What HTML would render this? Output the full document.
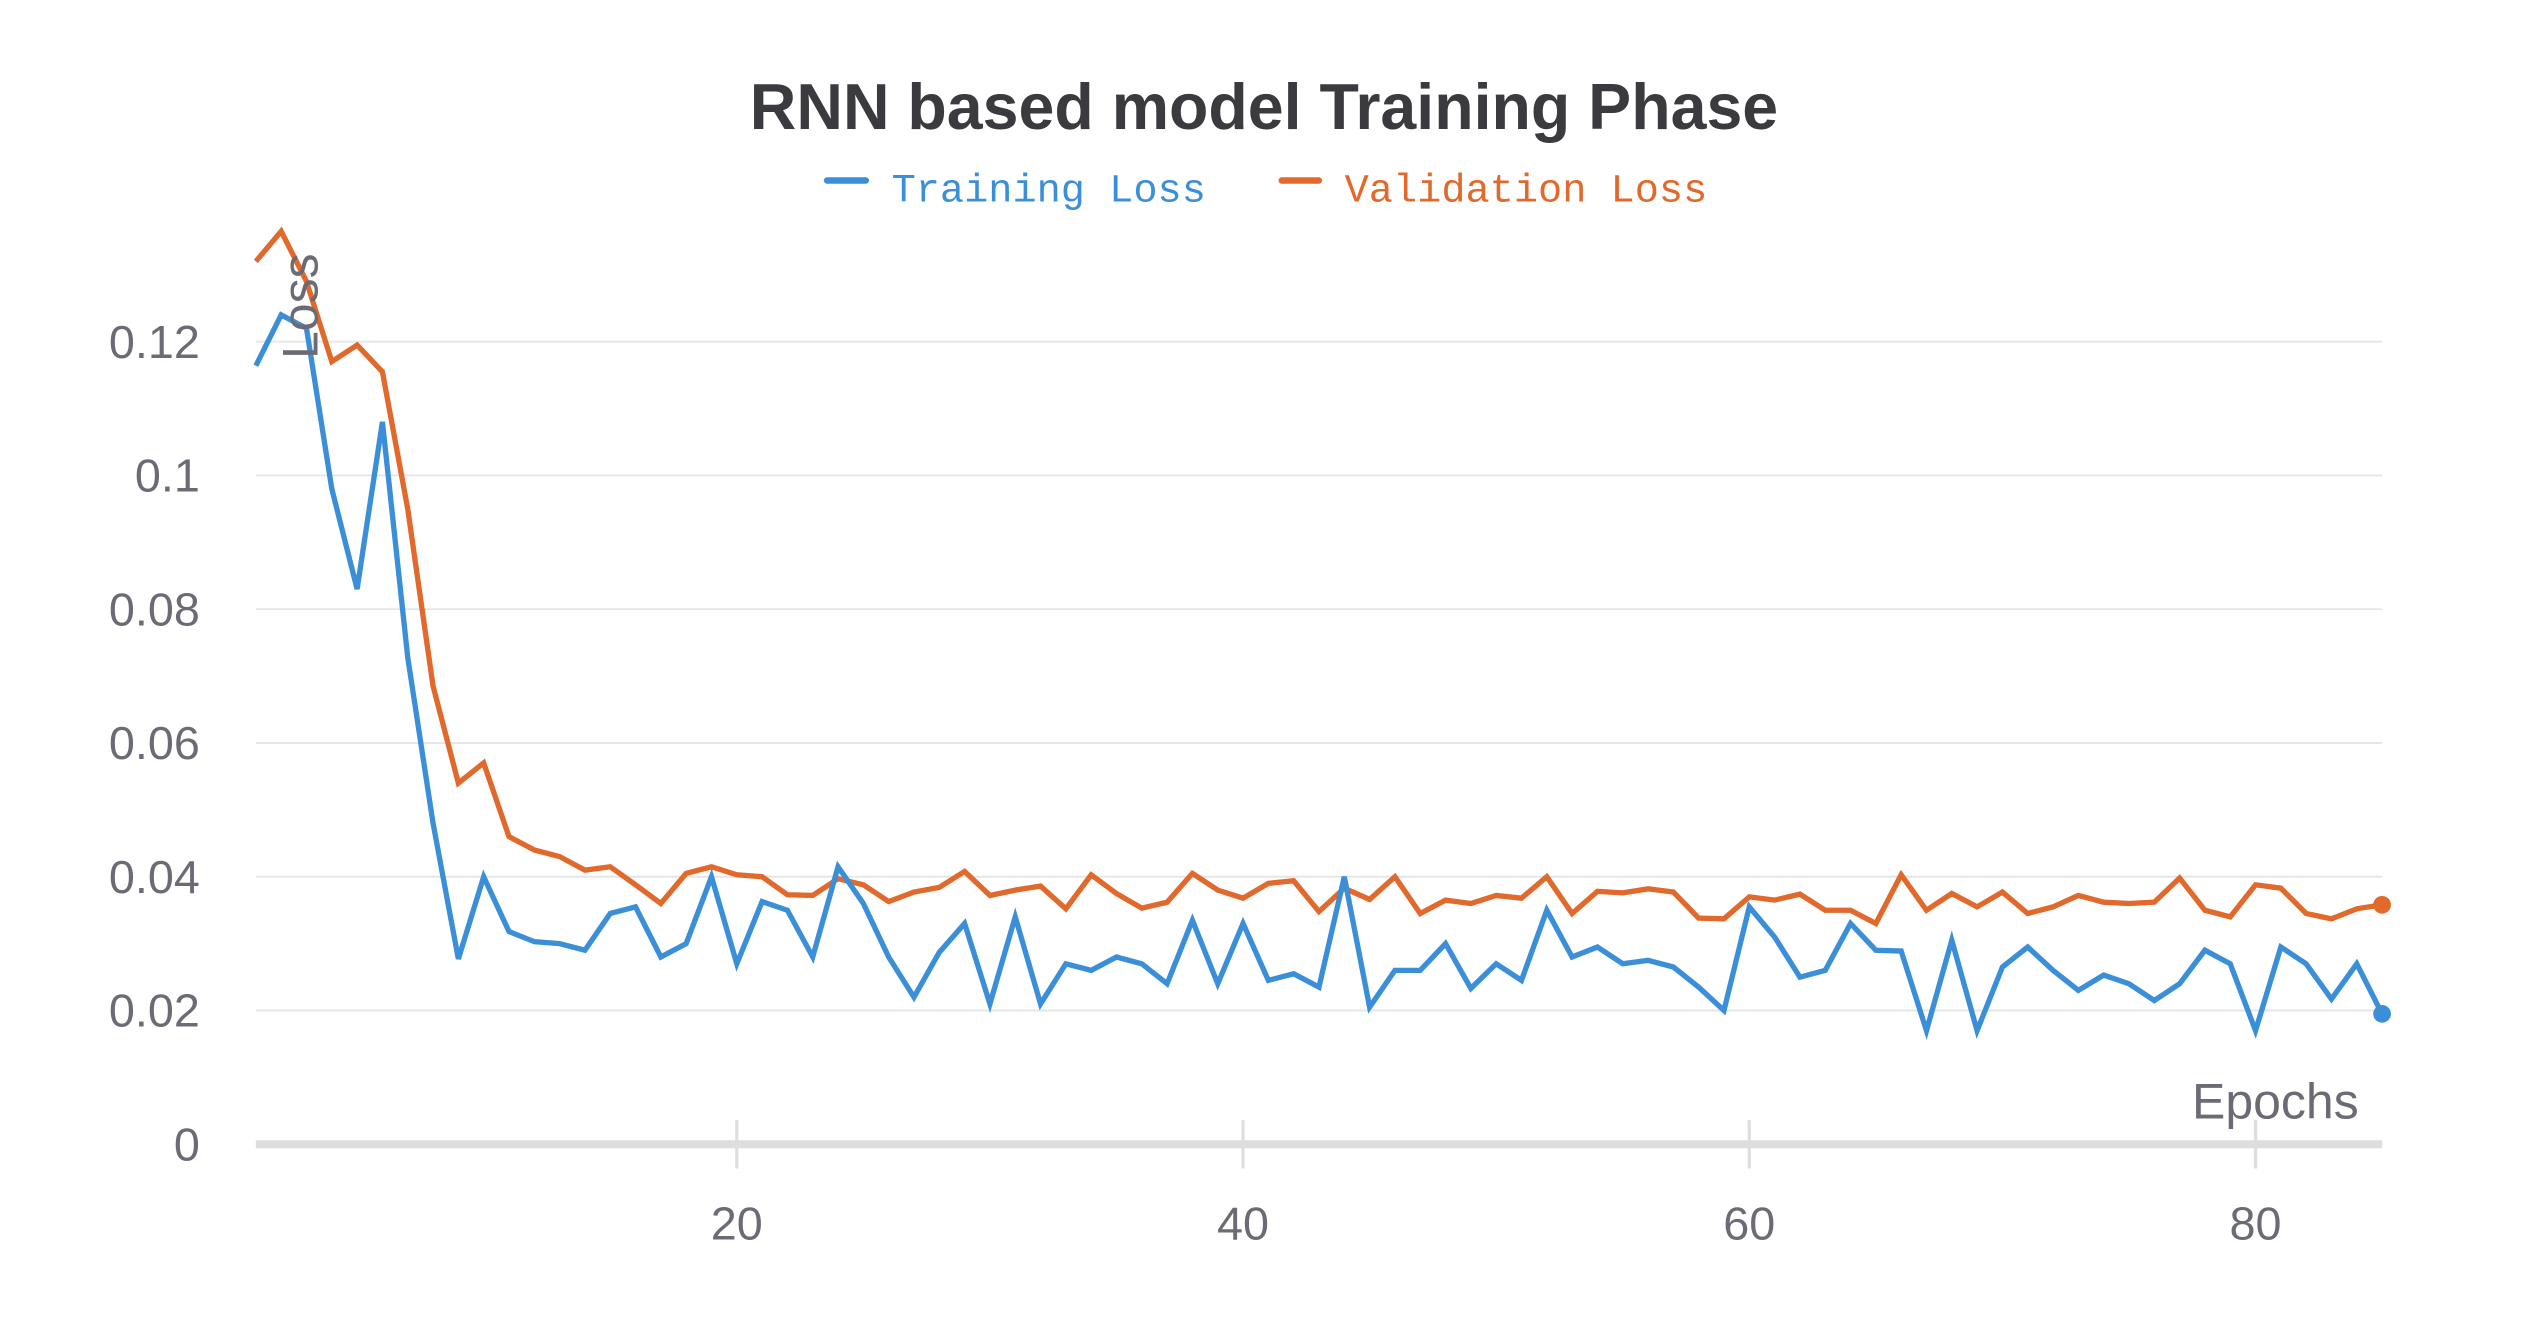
<!DOCTYPE html>
<html><head><meta charset="utf-8"><style>
html,body{margin:0;padding:0;background:#fff;}
svg{display:block;}
</style></head><body>
<svg id="chart" width="2528" height="1328" viewBox="0 0 1568 824" preserveAspectRatio="none" xmlns="http://www.w3.org/2000/svg" font-family="'Liberation Sans', sans-serif">
<rect x="0" y="0" width="1568" height="824" fill="#fff"/>
<text x="784" y="80" text-anchor="middle" font-size="40" font-weight="bold" fill="#3a3a3f">RNN based model Training Phase</text>
<g>
<g>
<line x1="513" y1="112" x2="537" y2="112" stroke="#3b8fd9" stroke-width="4" stroke-linecap="round"/>
<text x="553" y="125" font-family="'Liberation Mono', monospace" font-size="25" fill="#3b8fd9">Training Loss</text>
</g>
<g>
<line x1="795" y1="112" x2="818" y2="112" stroke="#e0692b" stroke-width="4" stroke-linecap="round"/>
<text x="834" y="125" font-family="'Liberation Mono', monospace" font-size="25" fill="#e0692b">Validation Loss</text>
</g>
</g>
<g id="grid"></g>
<g id="axes"></g>
<g id="series"></g>
<text x="1463" y="694" text-anchor="end" font-size="31" fill="#6b6b76">Epochs</text>
<text transform="translate(197,190) rotate(-90)" text-anchor="middle" font-size="31" fill="#6b6b76">Loss</text>
</svg>
<script>
const trainingLoss = [0.1164,0.124,0.122,0.098,0.083,0.108,0.0728,0.048,0.0277,0.040,0.0318,0.0303,0.030,0.029,0.0345,0.0355,0.028,0.030,0.040,0.027,0.0363,0.035,0.028,0.0415,0.036,0.028,0.022,0.0287,0.033,0.021,0.034,0.021,0.027,0.026,0.028,0.027,0.024,0.0335,0.024,0.033,0.0245,0.0255,0.0235,0.040,0.0205,0.026,0.026,0.030,0.0233,0.027,0.0245,0.035,0.028,0.0295,0.027,0.0275,0.0265,0.0235,0.020,0.0355,0.031,0.025,0.026,0.033,0.029,0.0289,0.017,0.0305,0.017,0.0265,0.0295,0.026,0.023,0.0253,0.024,0.0215,0.024,0.029,0.027,0.017,0.0295,0.027,0.0217,0.027,0.0195];
const validationLoss = [0.132,0.1365,0.129,0.117,0.1195,0.1155,0.095,0.0685,0.054,0.057,0.046,0.044,0.043,0.041,0.0415,0.0388,0.036,0.0405,0.0415,0.0403,0.040,0.0373,0.0372,0.0397,0.0388,0.0363,0.0377,0.0384,0.0408,0.0372,0.038,0.0386,0.0352,0.0403,0.0375,0.0353,0.0362,0.0405,0.038,0.0368,0.039,0.0394,0.0348,0.0383,0.0366,0.040,0.0345,0.0365,0.036,0.0372,0.0368,0.040,0.0345,0.0378,0.0376,0.0382,0.0377,0.0338,0.0337,0.037,0.0365,0.0374,0.035,0.035,0.033,0.0403,0.035,0.0375,0.0355,0.0377,0.0345,0.0355,0.0372,0.0362,0.036,0.0362,0.0398,0.035,0.034,0.0388,0.0383,0.0345,0.0337,0.0352,0.0358];
const yTicks = [0,0.02,0.04,0.06,0.08,0.1,0.12];
const yTickLabels = ["0","0.02","0.04","0.06","0.08","0.1","0.12"];
const xTicks = [20,40,60,80];

const NS = "http://www.w3.org/2000/svg";
const X0 = 158.7, XSTEP = 15.7, Y0 = 710, YK = 4150;
function xs(e){ return X0 + (e-1)*XSTEP; }
function ys(v){ return Y0 - YK*v; }
function mk(tag, attrs, parent){
  const el = document.createElementNS(NS, tag);
  for (const k in attrs) el.setAttribute(k, attrs[k]);
  parent.appendChild(el);
  return el;
}
const grid = document.getElementById('grid');
const axes = document.getElementById('axes');
const series = document.getElementById('series');
const xEnd = xs(trainingLoss.length);

yTicks.forEach((t,i)=>{
  if (t > 0) {
    const gl = mk('line',{x1:X0,x2:xEnd,y1:ys(t),y2:ys(t),stroke:'#e6e6e6','stroke-width':1.2},grid);
    
    
  }
  const tx = mk('text',{x:124,y:ys(t)+10,'text-anchor':'end','font-size':29,fill:'#6b6b76'},axes);
  tx.textContent = yTickLabels[i];
  
  
});
const ax = mk('line',{x1:X0,x2:xEnd,y1:Y0,y2:Y0,stroke:'#dedede','stroke-width':5},axes);


xTicks.forEach(t=>{
  const tk = mk('line',{x1:xs(t),x2:xs(t),y1:695,y2:725,stroke:'#dedede','stroke-width':2},axes);
  
  
  const tl = mk('text',{x:xs(t),y:769,'text-anchor':'middle','font-size':29,fill:'#6b6b76'},axes);
  tl.textContent = String(t);
  
  
});
function drawSeries(vals, color, name){
  const pts = vals.map((v,i)=>xs(i+1).toFixed(1)+','+ys(v).toFixed(1)).join(' ');
  const pl = mk('polyline',{points:pts,fill:'none',stroke:color,'stroke-width':3.3,'stroke-linejoin':'miter'},series);
  
  
  const n = vals.length;
  const c = mk('circle',{cx:xs(n),cy:ys(vals[n-1]),r:5.5,fill:color},series);
  
  
}
drawSeries(validationLoss,'#e0692b','validation-loss');
drawSeries(trainingLoss,'#3b8fd9','training-loss');
</script>
</body></html>
